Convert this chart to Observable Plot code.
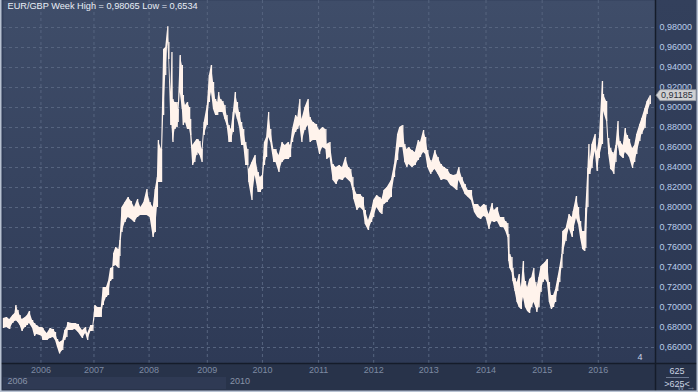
<!DOCTYPE html>
<html><head><meta charset="utf-8">
<script src="https://cdn.jsdelivr.net/npm/d3@7"></script>
<script src="https://cdn.jsdelivr.net/npm/@observablehq/plot@0.6"></script>
<style>html,body{margin:0;padding:0;background:#2c3954;overflow:hidden}#chart svg{display:block}</style>
</head><body><div id="chart"></div>
<script>
const title = "EUR/GBP Week High = 0,98065 Low = 0,6534";
const lastClose = 0.91185;
const barCount = 625;
const pageMarker = "4";
const yearLabels = [2006, 2007, 2008, 2009, 2010, 2011, 2012, 2013, 2014, 2015, 2016];
const yearWeeks = [36, 87, 140, 196, 249, 303, 356, 409, 464, 518, 572];
const rangeLabels = ["2006", "2010"];
const rangeWeeks = [0, 214];
const yTicks = [0.66, 0.68, 0.70, 0.72, 0.74, 0.76, 0.78, 0.80, 0.82, 0.84, 0.86, 0.88, 0.90, 0.92, 0.94, 0.96, 0.98];

const weeks = [0,3,6,9,11,12,14,16,18,21,23,25,28,30,32,35,37,38,42,45,48,50,52,54,57,59,61,62,66,69,72,76,79,81,84,86,
88,91,94,96,99,101,103,105,106,108,111,112,114,117,120,123,126,129,132,135,138,141,144,146,148,
149,152,154,156,158,159,161,162,163,165,167,168,170,172,173,175,177,179,180,182,184,186,187,189,191,
193,196,198,200,202,204,206,207,209,211,213,215,217,219,221,223,225,227,229,231,233,235,236,239,242,245,247,249,
251,253,255,257,260,262,265,268,271,274,276,278,281,283,285,287,290,293,295,298,301,304,307,310,311,314,
317,320,323,326,329,332,334,336,337,340,343,346,348,351,354,356,359,362,364,366,369,373,376,379,381,384,
386,388,390,393,396,399,401,404,406,408,411,412,415,418,421,424,427,430,433,436,438,441,444,447,450,453,
456,459,462,464,467,470,472,475,478,481,483,485,486,487,489,490,492,494,496,498,500,502,504,506,508,510,
512,513,515,517,519,521,523,525,527,529,531,533,535,537,538,541,544,547,548,551,553,555,557,559,560,562,
563,564,566,569,571,573,576,577,580,582,584,586,587,589,591,593,596,598,600,602,605,607,609,612,614,617,619,622];

const lows = [0.679,0.680,0.678,0.684,0.686,0.687,0.685,0.682,0.676,0.680,0.682,0.684,0.679,0.671,0.673,0.672,0.671,0.667,0.667,0.669,0.670,0.667,0.660,0.6534,0.657,0.667,0.670,0.677,0.677,0.678,0.675,0.669,0.674,0.667,0.676,0.676,
0.690,0.690,0.690,0.702,0.710,0.712,0.726,0.728,0.741,0.742,0.739,0.751,0.775,0.785,0.790,0.788,0.785,0.790,0.792,0.792,0.792,0.790,0.770,0.775,0.800,
0.825,0.825,0.892,0.932,0.965,0.948,0.882,0.882,0.865,0.878,0.880,0.885,0.915,0.898,0.882,0.885,0.878,0.878,0.872,0.842,0.845,0.852,0.855,0.852,0.845,
0.872,0.882,0.905,0.915,0.898,0.892,0.892,0.895,0.895,0.895,0.888,0.882,0.865,0.865,0.875,0.895,0.888,0.880,0.862,0.862,0.842,0.842,0.825,0.807,0.832,0.815,0.815,0.818,
0.842,0.850,0.870,0.865,0.845,0.845,0.835,0.845,0.848,0.848,0.850,0.865,0.875,0.878,0.882,0.865,0.877,0.882,0.865,0.867,0.867,0.853,0.860,0.858,0.848,0.850,
0.827,0.823,0.828,0.827,0.830,0.827,0.825,0.817,0.808,0.797,0.800,0.797,0.783,0.777,0.785,0.790,0.800,0.795,0.793,0.803,0.805,0.810,0.830,0.847,0.860,0.860,
0.845,0.840,0.843,0.840,0.842,0.847,0.850,0.855,0.853,0.840,0.833,0.835,0.838,0.833,0.827,0.828,0.827,0.822,0.820,
0.817,0.827,0.820,0.813,0.810,0.807,0.795,0.790,0.788,0.791,0.790,0.778,0.786,0.785,0.786,0.780,0.780,0.776,0.770,0.746,0.739,
0.735,0.726,0.716,0.705,0.700,0.698,0.710,0.700,0.696,0.694,0.700,0.705,0.700,0.695,0.700,0.715,0.725,0.728,0.725,0.705,0.698,0.700,0.705,0.716,0.725,0.739,
0.753,0.766,0.779,0.770,0.776,0.789,0.783,0.769,0.758,0.756,0.759,0.800,0.833,0.833,0.839,0.856,0.836,0.849,0.863,0.896,0.886,0.853,0.838,0.836,0.833,0.845,0.863,0.852,0.849,0.855,0.853,0.850,0.839,0.845,0.853,0.866,0.873,0.879,0.893,0.903];

const highs = [0.689,0.690,0.688,0.692,0.694,0.702,0.697,0.692,0.688,0.690,0.692,0.696,0.687,0.684,0.682,0.680,0.680,0.679,0.674,0.679,0.678,0.675,0.668,0.665,0.667,0.677,0.680,0.685,0.684,0.684,0.683,0.677,0.680,0.674,0.682,0.682,
0.702,0.700,0.700,0.720,0.720,0.726,0.739,0.740,0.754,0.760,0.758,0.767,0.800,0.805,0.810,0.806,0.800,0.808,0.800,0.805,0.818,0.805,0.800,0.818,0.830,
0.867,0.858,0.958,0.960,0.98065,0.965,0.915,0.955,0.908,0.905,0.905,0.898,0.952,0.942,0.912,0.902,0.905,0.900,0.888,0.862,0.865,0.868,0.868,0.866,0.858,
0.885,0.902,0.932,0.942,0.925,0.908,0.905,0.915,0.908,0.906,0.902,0.892,0.882,0.878,0.895,0.915,0.905,0.895,0.885,0.878,0.865,0.858,0.838,0.845,0.852,0.835,0.830,0.832,
0.865,0.870,0.895,0.878,0.858,0.858,0.852,0.865,0.862,0.865,0.862,0.878,0.892,0.890,0.908,0.888,0.900,0.908,0.890,0.885,0.883,0.877,0.880,0.878,0.863,0.865,
0.843,0.840,0.842,0.840,0.850,0.840,0.838,0.830,0.820,0.813,0.813,0.810,0.797,0.787,0.797,0.807,0.812,0.810,0.808,0.817,0.820,0.827,0.843,0.873,0.880,0.882,
0.863,0.858,0.860,0.857,0.855,0.867,0.865,0.877,0.870,0.857,0.847,0.845,0.857,0.850,0.843,0.840,0.838,0.833,0.832,
0.833,0.840,0.830,0.823,0.817,0.817,0.803,0.803,0.800,0.803,0.802,0.793,0.804,0.797,0.800,0.790,0.790,0.786,0.784,0.773,0.753,
0.750,0.739,0.729,0.725,0.733,0.720,0.746,0.726,0.720,0.728,0.730,0.739,0.725,0.720,0.730,0.741,0.743,0.745,0.748,0.725,0.712,0.712,0.718,0.729,0.740,0.753,
0.776,0.779,0.793,0.790,0.796,0.811,0.800,0.786,0.776,0.776,0.799,0.839,0.863,0.846,0.863,0.873,0.856,0.869,0.926,0.913,0.906,0.869,0.859,0.855,0.853,0.862,0.886,0.866,0.862,0.879,0.872,0.868,0.859,0.862,0.873,0.883,0.889,0.899,0.906,0.91185];

const data = weeks.map((w, i) => ({w, lo: lows[i], hi: highs[i]}));
const fmt = v => v.toFixed(5).replace(".", ",");
const font = "'Liberation Sans', Arial, sans-serif";
const bar = "#fff3ec";
const grid = "#56647f";

const plot = Plot.plot({
  width: 698, height: 392,
  marginLeft: 3, marginRight: 43, marginTop: 0, marginBottom: 29,
  style: {background: "transparent", fontFamily: font, fontSize: "9px", overflow: "visible"},
  x: {domain: [0, 627], axis: null},
  y: {domain: [0.644, 1.007], axis: null},
  marks: [
    Plot.frame({fill: "url(#plotBg)", stroke: null}),
    Plot.gridY(yTicks, {stroke: grid, strokeOpacity: 1, strokeDasharray: "3,3"}),
    Plot.gridX(yearWeeks, {stroke: grid, strokeOpacity: 1, strokeDasharray: "3,3"}),
    Plot.areaY(data, {x: "w", y1: "lo", y2: "hi", fill: bar}),
    Plot.ruleX(data, {x: "w", y1: "lo", y2: "hi", stroke: bar, strokeWidth: 1.3}),
    Plot.axisY(yTicks, {anchor: "right", tickSize: 0, tickPadding: 4, tickFormat: fmt, fill: "#b9cdea", fontSize: 9}),
    Plot.axisX(yearWeeks, {anchor: "bottom", tickSize: 0, tickPadding: 3, tickFormat: d => String(yearLabels[yearWeeks.indexOf(d)]), fill: "#7d8aa2", fontSize: 9}),
    Plot.text(rangeWeeks, {x: d => d, text: (d, i) => rangeLabels[i], frameAnchor: "bottom", dy: 20, dx: 4, textAnchor: "start", fill: "#8893a8", fontSize: 9}),
    Plot.text([title], {frameAnchor: "top-left", dx: 4, dy: 2, fill: "#e8edf6", fontSize: 9.2, lineAnchor: "top"}),
    Plot.text([pageMarker], {frameAnchor: "bottom-right", dx: -13, dy: -4, fill: "#c9d4e4", fontSize: 9})
  ]
});

const svg = d3.select(plot);
const defs = svg.insert("defs", ":first-child");
defs.html(`<linearGradient id="plotBg" x1="0" y1="0" x2="0" y2="1">
  <stop offset="0" stop-color="#3f4d69"/><stop offset="1" stop-color="#2e3a56"/></linearGradient>
  <linearGradient id="axBg" x1="0" y1="0" x2="0" y2="1">
  <stop offset="0" stop-color="#33405c"/><stop offset="1" stop-color="#2a3651"/></linearGradient>`);
const bg = svg.insert("g", "defs + *");
bg.append("rect").attr("x", 0).attr("y", 0).attr("width", 698).attr("height", 392).attr("fill", "url(#axBg)");
bg.append("rect").attr("x", 0).attr("y", 363).attr("width", 698).attr("height", 29).attr("fill", "#28334a");
bg.append("rect").attr("x", 3).attr("y", 377).attr("width", 223).attr("height", 12).attr("fill", "#2f3a54");

const over = svg.append("g").attr("text-anchor", "start");
over.append("line").attr("x1", 655.5).attr("x2", 655.5).attr("y1", 0).attr("y2", 392).attr("stroke", "#151c2a").attr("stroke-width", 1.5);
over.append("line").attr("x1", 0).attr("x2", 698).attr("y1", 363.5).attr("y2", 363.5).attr("stroke", "#151c2a").attr("stroke-width", 1.5);
over.append("path").attr("d", "M0.75,0V391.25H697.25V0").attr("fill", "none").attr("stroke", "#b8c2d2").attr("stroke-width", 1.5);
// last price label
const yLast = plot.scale("y").apply(lastClose);
over.append("path").attr("d", `M656,${yLast}l4,-5.5h36v11h-36z`).attr("fill", "#cfd0d2").attr("stroke", "#8d939c").attr("stroke-width", 0.8);
over.append("text").attr("x", 661).attr("y", yLast).attr("dy", "0.35em").attr("text-anchor", "start").attr("fill", "#2a2f3a")
  .attr("font-family", font).attr("font-size", 9).text(fmt(lastClose));
// bar count box
over.append("text").attr("x", 677).attr("y", 373.5).attr("text-anchor", "middle").attr("fill", "#c9d2e0")
  .attr("font-family", font).attr("font-size", 9).text(String(barCount));
over.append("line").attr("x1", 666).attr("x2", 689).attr("y1", 377.5).attr("y2", 377.5).attr("stroke", "#6c7890");
over.append("text").attr("x", 677).attr("y", 386.5).attr("text-anchor", "middle").attr("fill", "#c9d2e0")
  .attr("font-family", font).attr("font-size", 9).text(">" + barCount + "<");

document.getElementById("chart").append(plot);
</script>
</body></html>
